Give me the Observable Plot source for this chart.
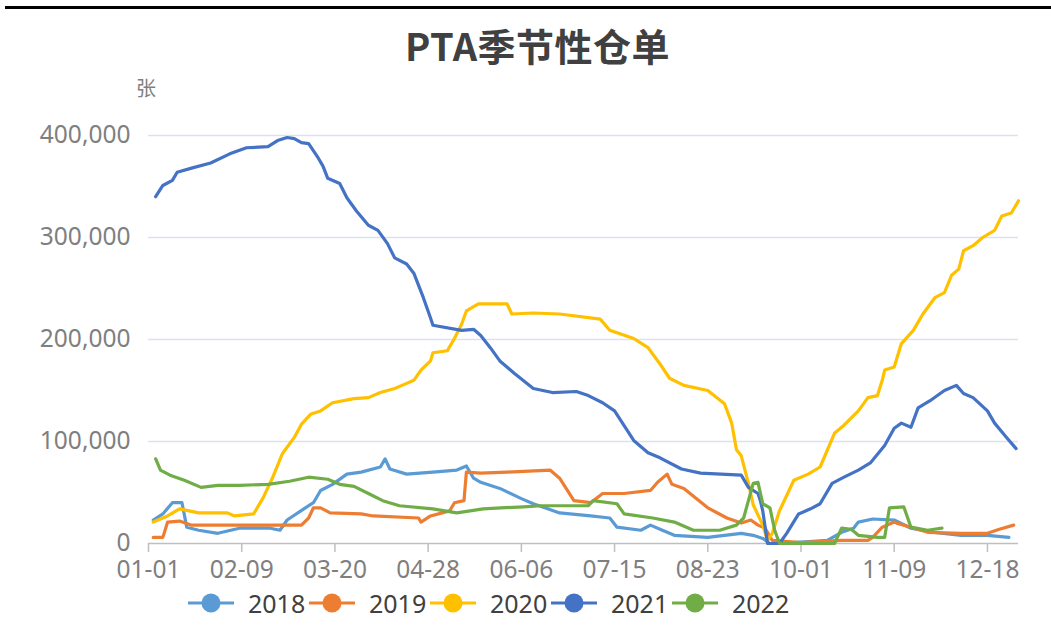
<!DOCTYPE html>
<html>
<head>
<meta charset="utf-8">
<script src="https://cdn.jsdelivr.net/npm/d3@7"></script>
<script src="https://cdn.jsdelivr.net/npm/@observablehq/plot@0.6"></script>
<style>
  html, body { margin: 0; padding: 0; background: #fff; }
  #wrap { position: relative; width: 1051px; height: 640px; overflow: hidden; font-family: "Noto Sans", "Noto Sans CJK SC", sans-serif; }
  #topline { position: absolute; left: 5px; right: 0; top: 6px; height: 3px; background: #000; }
  #title { position: absolute; left: 12px; width: 1051px; top: 20px; text-align: center; font-family: "Noto Sans CJK SC", sans-serif; font-weight: 700; font-size: 38px; color: #404040; line-height: 50px; letter-spacing: 0.5px; }
  #unit { position: absolute; left: 136px; top: 73px; font-family: "Noto Sans CJK SC", sans-serif; font-size: 20px; color: #7f7f7f; }
  #chart { position: absolute; left: 0; top: 0; }
  #legend { position: absolute; left: 188px; top: 586px; display: flex; }
  .item { display: flex; align-items: center; width: 121px; font-size: 25px; color: #404040; font-family: "Noto Sans", sans-serif; }
  .item svg { margin-right: 14px; flex: none; }
</style>
</head>
<body>
<div id="wrap">
  <div id="topline"></div>
  <div id="title">PTA季节性仓单</div>
  <div id="unit">张</div>
  <div id="chart"></div>
  <div id="legend"></div>
</div>
<script>
const seriesNames = ["2018", "2019", "2020", "2021", "2022"];
const seriesColors = ["#5B9BD5", "#ED7D31", "#FFC000", "#4472C4", "#70AD47"];
const xTickLabels = ["01-01", "02-09", "03-20", "04-28", "06-06", "07-15", "08-23", "10-01", "11-09", "12-18"];
const yTicks = [0, 100000, 200000, 300000, 400000];

// day of year (0 = 01-01) and warehouse receipts (张)
const days2018 = [2, 6, 10, 14, 16, 21, 29, 38, 51, 55, 58, 65, 69, 72, 77, 83, 89, 97, 99, 101, 108, 119, 129, 133, 136, 139, 147, 156, 161, 167, 172, 185, 193, 196, 206, 210, 215, 220, 234, 248, 253, 257, 260, 262, 278, 284, 290, 295, 297, 303, 312, 319, 328, 340, 351, 360];
const vals2018 = [23000, 29000, 40000, 40000, 16000, 13000, 10000, 15000, 15000, 13000, 23000, 34000, 40000, 52000, 58000, 68000, 70000, 75000, 83000, 73000, 68000, 70000, 72000, 76000, 64000, 60000, 54000, 44000, 39000, 34000, 30000, 27000, 25000, 16000, 13000, 18000, 13000, 8000, 6000, 10000, 8000, 5000, 0, 0, 2000, 3000, 11000, 15000, 21000, 24000, 23000, 15000, 11000, 8000, 8000, 6000];

const days2019 = [2, 6, 8, 13, 18, 64, 67, 69, 72, 76, 89, 94, 113, 114, 118, 126, 128, 132, 133, 139, 150, 168, 172, 178, 185, 190, 199, 210, 213, 217, 219, 224, 234, 242, 248, 252, 255, 258, 261, 273, 290, 301, 303, 307, 312, 313, 319, 326, 340, 351, 356, 362];
const vals2019 = [6000, 6000, 21000, 22000, 18000, 18000, 25000, 35000, 35000, 30000, 29000, 27000, 25000, 21000, 27000, 32000, 40000, 42000, 70000, 69000, 70000, 72000, 64000, 42000, 40000, 49000, 49000, 52000, 60000, 68000, 58000, 54000, 35000, 25000, 20000, 23000, 18000, 15000, 3000, 1000, 3000, 3000, 6000, 16000, 21000, 20000, 16000, 11000, 10000, 10000, 14000, 18000];

const days2020 = [2, 8, 13, 21, 33, 36, 44, 48, 52, 56, 61, 64, 68, 72, 77, 86, 92, 97, 103, 108, 111, 114, 118, 119, 125, 128, 131, 133, 138, 147, 150, 152, 161, 172, 189, 193, 203, 209, 214, 218, 224, 234, 241, 244, 246, 248, 251, 253, 257, 259, 261, 264, 270, 276, 281, 287, 291, 297, 301, 305, 307, 308, 312, 315, 320, 324, 329, 333, 336, 339, 341, 345, 349, 354, 357, 361, 364];
const vals2020 = [21000, 27000, 34000, 30000, 30000, 27000, 29000, 45000, 65000, 88000, 104000, 117000, 127000, 130000, 138000, 142000, 143000, 148000, 152000, 157000, 160000, 170000, 179000, 187000, 189000, 201000, 215000, 228000, 235000, 235000, 235000, 225000, 226000, 225000, 220000, 209000, 201000, 192000, 176000, 162000, 155000, 150000, 137000, 118000, 92000, 86000, 59000, 38000, 18000, 3000, 10000, 32000, 62000, 68000, 75000, 108000, 116000, 130000, 143000, 145000, 160000, 170000, 173000, 196000, 209000, 225000, 241000, 246000, 263000, 269000, 287000, 292000, 300000, 307000, 321000, 324000, 336000];

const days2021 = [3, 6, 10, 12, 18, 26, 34, 41, 50, 54, 58, 61, 64, 67, 71, 73, 75, 80, 83, 87, 92, 96, 100, 103, 108, 111, 115, 118, 119, 131, 136, 139, 143, 147, 153, 161, 169, 179, 184, 190, 195, 203, 209, 214, 223, 231, 248, 251, 255, 256, 257, 259, 264, 267, 272, 277, 281, 286, 291, 297, 302, 308, 312, 315, 319, 322, 327, 333, 338, 341, 345, 351, 354, 359, 363];
const vals2021 = [340000, 351000, 356000, 364000, 368000, 373000, 382000, 388000, 389000, 395000, 398000, 397000, 393000, 392000, 378000, 370000, 358000, 353000, 339000, 326000, 312000, 307000, 294000, 280000, 274000, 265000, 241000, 221000, 214000, 209000, 210000, 204000, 192000, 179000, 167000, 152000, 148000, 149000, 145000, 138000, 130000, 101000, 89000, 84000, 73000, 69000, 67000, 55000, 49000, 42000, 32000, 0, 0, 10000, 29000, 34000, 39000, 59000, 65000, 72000, 79000, 96000, 113000, 118000, 114000, 133000, 140000, 150000, 155000, 147000, 143000, 130000, 118000, 104000, 93000];

const days2022 = [3, 5, 9, 15, 22, 29, 38, 50, 59, 67, 75, 80, 86, 92, 98, 105, 119, 129, 140, 157, 164, 172, 184, 186, 196, 199, 211, 220, 228, 239, 246, 249, 251, 253, 255, 257, 260, 262, 264, 287, 290, 294, 297, 305, 308, 310, 316, 319, 326, 332];
const vals2022 = [83000, 72000, 67000, 62000, 55000, 57000, 57000, 58000, 61000, 65000, 63000, 58000, 56000, 49000, 42000, 37000, 34000, 30000, 34000, 36000, 37000, 37000, 37000, 42000, 39000, 29000, 25000, 21000, 13000, 13000, 18000, 25000, 42000, 59000, 60000, 39000, 35000, 13000, 0, 0, 15000, 14000, 8000, 6000, 6000, 35000, 36000, 16000, 13000, 15000];

const allDays = [days2018, days2019, days2020, days2021, days2022];
const allVals = [vals2018, vals2019, vals2020, vals2021, vals2022];

const base = Date.UTC(2021, 0, 1);
const toDate = d => new Date(base + d * 86400000);
const parseMD = s => new Date(Date.UTC(2021, +s.slice(0, 2) - 1, +s.slice(3, 5)));

const rows = [];
seriesNames.forEach((name, i) => {
  allDays[i].forEach((d, j) => rows.push({series: name, date: toDate(d), value: allVals[i][j]}));
});

const colorScale = {domain: seriesNames, range: seriesColors};

const chart = Plot.plot({
  width: 1051,
  height: 592,
  marginLeft: 148,
  marginRight: 33,
  marginTop: 135,
  marginBottom: 49,
  style: {fontFamily: "'Noto Sans', sans-serif", fontSize: "24px", background: "transparent"},
  x: {type: "utc", domain: [toDate(0), toDate(364)]},
  y: {domain: [0, 400000]},
  color: colorScale,
  marks: [
    Plot.ruleY(yTicks.filter(v => v > 0), {stroke: "#d9e1f2", strokeWidth: 1.5}),
    Plot.axisY({ticks: yTicks, tickFormat: d3.format(","), tickSize: 0, tickPadding: 18, fill: "#7f7f7f", fontSize: 24.5, label: null}),
    Plot.axisX({ticks: xTickLabels.map(parseMD), tickFormat: d3.utcFormat("%m-%d"), tickSize: 9, tickPadding: 8, stroke: "#bfbfbf", strokeWidth: 1.5, fill: "#7f7f7f", fontSize: 24.5, label: null}),
    Plot.ruleY([0], {stroke: "#bfbfbf", strokeWidth: 1.5}),
    Plot.line(rows, {x: "date", y: "value", z: "series", stroke: "series", strokeWidth: 3.2, curve: "linear", strokeLinejoin: "round"})
  ]
});
document.getElementById("chart").appendChild(chart);

const legend = document.getElementById("legend");
seriesNames.forEach((name, i) => {
  const it = document.createElement("div");
  it.className = "item";
  it.innerHTML = `<svg width="46" height="22"><line x1="0" y1="11" x2="46" y2="11" stroke="${seriesColors[i]}" stroke-width="3"/><circle cx="23" cy="11" r="9.5" fill="${seriesColors[i]}"/></svg><span>${name}</span>`;
  legend.appendChild(it);
});
</script>
</body>
</html>
